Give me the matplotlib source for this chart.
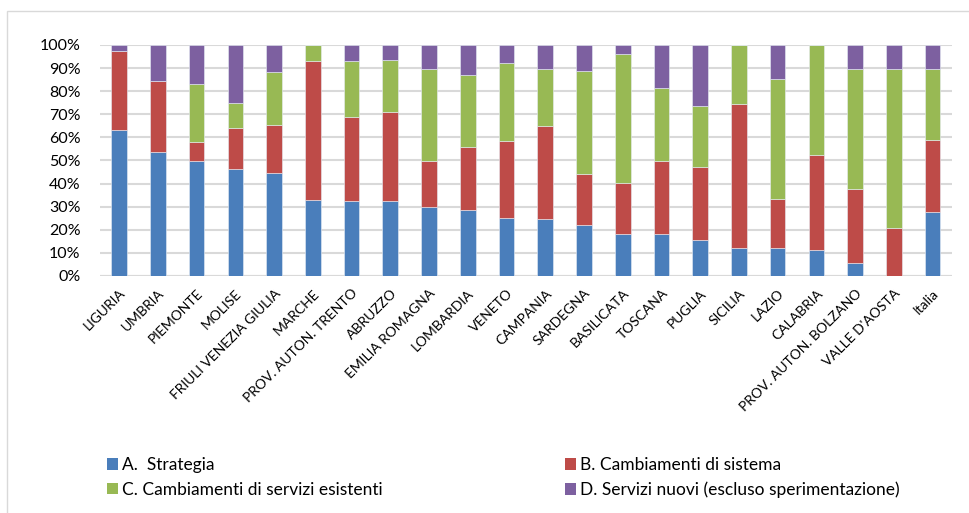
import numpy as np
import matplotlib
matplotlib.use("Agg")
from matplotlib import pyplot as plt
from matplotlib.patches import Rectangle, Patch

regioni = ["LIGURIA", "UMBRIA", "PIEMONTE", "MOLISE", "FRIULI VENEZIA GIULIA",
           "MARCHE", "PROV. AUTON. TRENTO", "ABRUZZO", "EMILIA ROMAGNA",
           "LOMBARDIA", "VENETO", "CAMPANIA", "SARDEGNA", "BASILICATA",
           "TOSCANA", "PUGLIA", "SICILIA", "LAZIO", "CALABRIA",
           "PROV. AUTON. BOLZANO", "VALLE D'AOSTA", "Italia"]

# cumulative tops (percent)
top_a = [63.3, 53.6, 49.9, 46.2, 44.6, 33.0, 32.5, 32.5, 29.9, 28.7, 25.2,
         24.6, 22.0, 18.3, 18.2, 15.7, 12.3, 12.3, 11.2, 5.8, 0.0, 27.7]
top_b = [97.4, 84.5, 58.1, 64.1, 65.4, 93.0, 68.7, 71.2, 49.9, 55.9, 58.6,
         64.8, 44.2, 40.4, 49.9, 47.2, 74.6, 33.2, 52.5, 37.7, 20.7, 58.7]
top_c = [97.4, 84.5, 83.2, 74.9, 88.4, 100.0, 93.2, 93.6, 89.7, 87.1, 92.2,
         89.7, 88.7, 96.2, 81.4, 73.6, 100.0, 85.2, 100.0, 89.7, 89.4, 89.4]

strategia = np.array(top_a)
sistema = np.array(top_b) - np.array(top_a)
esistenti = np.array(top_c) - np.array(top_b)
nuovi = 100 - np.array(top_c)

serie = [
    ("A.  Strategia", strategia, "#4a7ebb"),
    ("B. Cambiamenti di sistema", sistema, "#be4b48"),
    ("C. Cambiamenti di servizi esistenti", esistenti, "#98b954"),
    ("D. Servizi nuovi (escluso sperimentazione)", nuovi, "#7d60a0"),
]

plt.rcParams['font.family'] = ['Lato', 'DejaVu Sans']

fig = plt.figure(figsize=(9.7, 5.13), dpi=100)
ax = fig.add_axes([0.1029, 0.462, 0.8785, 0.4503])

x = np.arange(len(regioni))
bottom = np.zeros(len(regioni))
handles = []
for nome, vals, col in serie:
    ax.bar(x, vals, 0.405, bottom=bottom, color=col, edgecolor="#e8eef6",
           linewidth=0.4, zorder=3)
    bottom += vals
    handles.append(Patch(facecolor=col, label=nome))

ax.set_xlim(-0.5, len(regioni) - 0.5)
ax.set_ylim(0, 100)
ax.set_yticks(np.arange(0, 101, 10))
ax.set_yticklabels([f"{v}%" for v in range(0, 101, 10)], fontsize=11.5)
ax.grid(axis="y", color="#d9d9d9", linewidth=1.5, zorder=0)
for s in ax.spines.values():
    s.set_visible(False)
ax.axhline(0, color="#d9d9d9", linewidth=1.5, zorder=1)
ax.tick_params(axis="y", length=0, pad=14)
ax.tick_params(axis="x", length=0, pad=8)
ax.set_xticks(x)
ax.set_xticklabels(regioni, rotation=45, ha="right", rotation_mode="anchor",
                   fontsize=10)

# chart frame
fig.patches.append(Rectangle((7 / 970, -0.01), 1.1, 1 - 11 / 513 + 0.01,
                             transform=fig.transFigure, fill=False,
                             edgecolor="#d9d9d9", linewidth=1))

kw = dict(loc="upper left", frameon=False, fontsize=12.5, handlelength=0.65,
          handleheight=0.65, handletextpad=0.2, labelspacing=0.5,
          borderaxespad=0, borderpad=0)
fig.legend(handles=[handles[0], handles[2]], bbox_to_anchor=(107 / 970, 1 - 457 / 513), **kw)
fig.legend(handles=[handles[1], handles[3]], bbox_to_anchor=(565 / 970, 1 - 457 / 513), **kw)

fig.savefig("out.png", dpi=100)
